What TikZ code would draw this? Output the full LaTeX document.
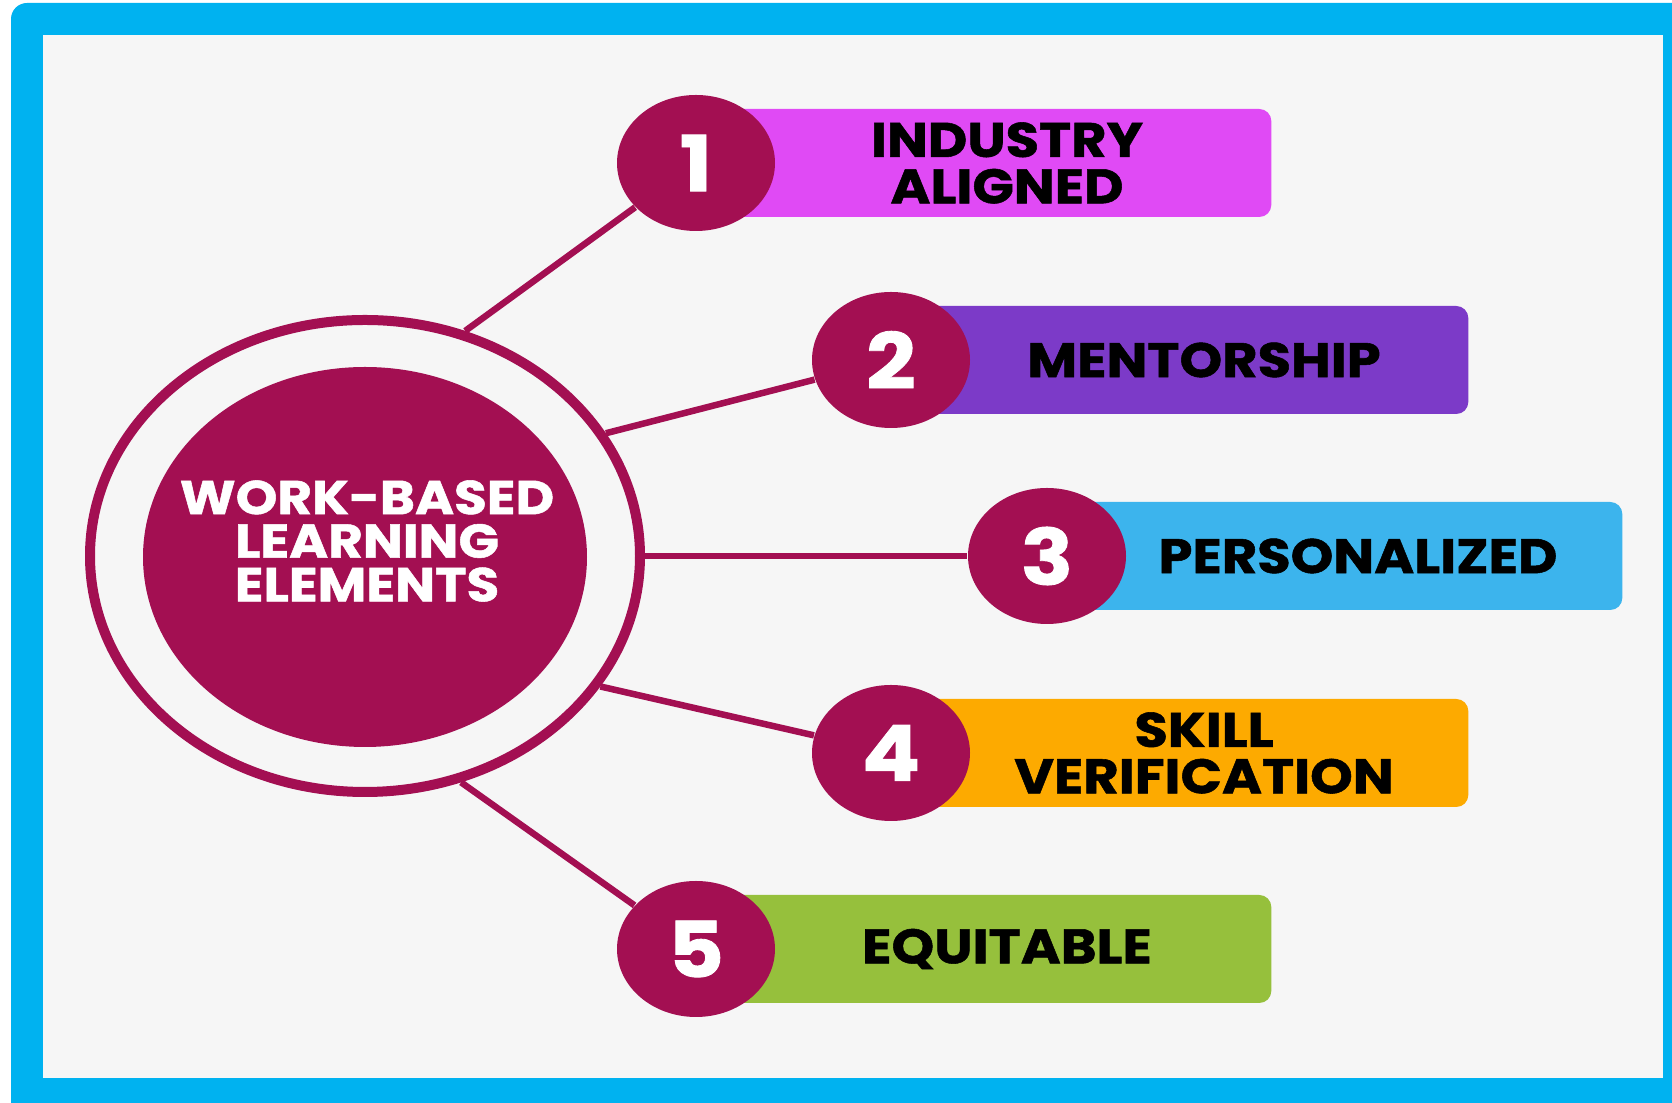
\documentclass[tikz,border=0pt]{standalone}
\usepackage{fontspec}
\setmainfont{Poppins}[FakeStretch=1.12, BoldFeatures={FakeBold=1.1}]
\usetikzlibrary{shapes.geometric, positioning}

\definecolor{wbframe}{RGB}{0,178,240}
\definecolor{wbback}{RGB}{246,246,246}
\definecolor{wbmaroon}{RGB}{163,15,82}
\definecolor{wbpink}{RGB}{224,74,245}
\definecolor{wbpurple}{RGB}{124,58,200}
\definecolor{wbblue}{RGB}{60,180,237}
\definecolor{wborange}{RGB}{253,170,0}
\definecolor{wbgreen}{RGB}{150,192,60}

\tikzset{
	num/.style={ellipse, fill=wbmaroon, text=white, inner sep=0pt,
		minimum width=15.8mm, minimum height=13.6mm,
		font=\fontsize{22}{22}\selectfont\bfseries},
	bar/.style={rectangle, rounded corners=1.2mm, anchor=east,
		minimum width=60mm, minimum height=10.8mm},
	lbl/.style={align=center, text=black,
		font=\fontsize{13.8}{13.2}\selectfont\bfseries},
	link/.style={draw=wbmaroon, line width=0.65mm}
}

\begin{document}
\begin{tikzpicture}[x=0.1mm, y=-0.1mm]
	\useasboundingbox (0,0) rectangle (1672,1103);
	% Draw the frame
	\fill[white] (0,0) rectangle (1672,1103);
	\fill[wbframe] (11,1103) [rounded corners=1.6mm] -- (11,3) [sharp corners] -- (1672,3) -- (1672,1103) -- cycle;
	\fill[wbback] (43,35) rectangle (1663,1078);

	% Draw the hub
	\node[ellipse, draw=wbmaroon, line width=1mm, minimum width=55mm, minimum height=47.2mm] (ring) at (365,556) {};
	\node[ellipse, fill=wbmaroon, minimum width=44.4mm, minimum height=38mm] (core) at (365,557) {};
	\node[align=center, text=white, font=\fontsize{13.5}{12.4}\selectfont\bfseries] (hubtext) at (367,541) {WORK-BASED\\LEARNING\\ELEMENTS};

	% Draw the bars
	\node[bar, fill=wbpink] (b1) at (1272,163) {};
	\node[bar, fill=wbpurple] (b2) at (1469,360) {};
	\node[bar, fill=wbblue] (b3) at (1623,556) {};
	\node[bar, fill=wborange] (b4) at (1469,753) {};
	\node[bar, fill=wbgreen] (b5) at (1272,949) {};

	% Draw the numbers
	\node[num] (n1) at (696,163) {1};
	\node[num] (n2) at (891,360) {2};
	\node[num] (n3) at (1047,556) {3};
	\node[num] (n4) at (891,753) {4};
	\node[num] (n5) at (696,949) {5};

	% Draw the links
	\draw[link] (ring.66) -- (n1);
	\draw[link] (ring.27) -- (n2);
	\draw[link] (ring.0) -- (n3);
	\draw[link] (ring.-29) -- (n4);
	\draw[link] (ring.-67) -- (n5);

	% Draw the labels
	\node[lbl] (t1) at ([xshift=-26.5mm]b1.east) {INDUSTRY\\ALIGNED};
	\node[lbl] (t2) at ([xshift=-26.5mm]b2.east) {MENTORSHIP};
	\node[lbl] (t3) at ([xshift=-26.5mm]b3.east) {PERSONALIZED};
	\node[lbl] (t4) at ([xshift=-26.5mm]b4.east) {SKILL\\VERIFICATION};
	\node[lbl] (t5) at ([xshift=-26.5mm]b5.east) {EQUITABLE};
\end{tikzpicture}
\end{document}
